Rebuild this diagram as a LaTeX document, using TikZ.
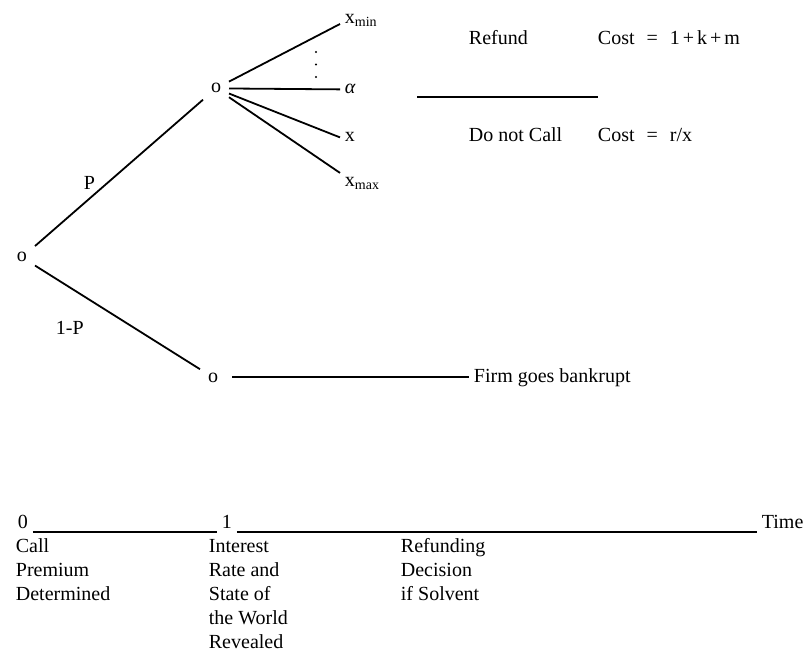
\documentclass[tikz,border=0pt]{standalone}
\usepackage{fontspec}
\setmainfont{Liberation Serif}
\begin{document}
\begin{tikzpicture}[x=0.5pt,y=-0.5pt,line width=0.9pt,
  state/.style={inner sep=1pt,outer sep=3pt,anchor=base},
  leaf/.style={inner sep=2pt,anchor=base west},
  txt/.style={inner sep=0pt,anchor=base west},
  col/.style={inner sep=0pt,anchor=north west,align=left}]
\useasboundingbox (0,0) rectangle (806,651);
% decision tree
\node[state] (root) at (22,262) {o};
\node[state] (up) at (216,93) {o};
\node[state] (down) at (213,382) {o};
\node[txt] (p) at (83,190) {P};
\node[txt] (q) at (55,335) {1-P};
\draw (root) -- (up);
\draw (root) -- (down);
% states of the world
\node[leaf] (xmin) at (340,24) {x\textsubscript{min}};
\node[leaf] (alpha) at (340,94) {\textit{α}};
\node[leaf] (xx) at (340,142) {x};
\node[leaf] (xmax) at (340,187) {x\textsubscript{max}};
\draw (up) -- (xmin.base west);
\draw (up) -- (alpha.west);
\draw (up) -- (xx.west);
\draw (up) -- (xmax.north west);
\foreach \y in {52,64.5,77}
  \fill (316,\y) circle (0.6pt);
% refunding decision
\node[txt] (refund) at (468,45) {Refund};
\node[txt] (cost1) at (597,45) {Cost\hspace{6pt}=\hspace{6pt}1\hspace{1.5pt}+\hspace{1.5pt}k\hspace{1.5pt}+\hspace{1.5pt}m};
\draw (417,97) -- (598,97);
\node[txt] (nocall) at (468,142) {Do not Call};
\node[txt] (cost2) at (597,142) {Cost\hspace{6pt}=\hspace{6pt}r/x};
% bankruptcy
\node[leaf] (firm) at (469,382) {Firm goes bankrupt};
\draw ([xshift=3pt]down.east) -- (down.east -| firm.west);
% time line
\node[leaf] (t0) at (13,528) {0};
\node[leaf] (t1) at (217,528) {1};
\node[leaf] (time) at (757,528) {Time};
\draw ([yshift=-2pt]t0.base east) -- ([yshift=-2pt]t1.base west);
\draw ([yshift=-2pt]t1.base east) -- ([yshift=-2pt]time.base west);
\node[col] (c0) at (15,538) {Call\\Premium\\Determined};
\node[col] (c1) at (208,538) {Interest\\Rate and\\State of\\the World\\Revealed};
\node[col] (c2) at (400,538) {Refunding\\Decision\\if Solvent};
\end{tikzpicture}
\end{document}
